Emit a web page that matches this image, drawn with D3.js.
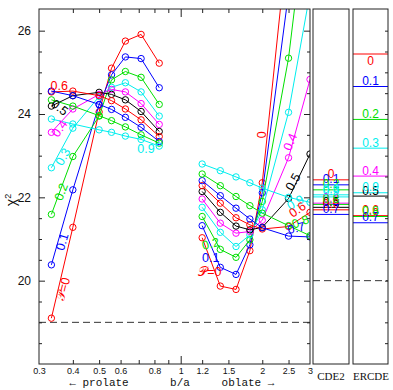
<!DOCTYPE html>
<html><head><meta charset="utf-8">
<script src="https://cdn.jsdelivr.net/npm/d3@7"></script>
<style>body{margin:0;background:#fff}svg{display:block}</style>
</head><body><svg id="c" width="393" height="390"></svg>
<script>
// ---------- data ----------
const pValues = [0, 0.1, 0.2, 0.3, 0.4, 0.5, 0.6, 0.7, 0.8, 0.9];
const seriesColors = ["#ff0000","#0000ff","#00e000","#00eeee","#ff00ff","#000000","#ff0000","#0000ff","#00e000","#00eeee"];

const prolateX = [0.3333, 0.4, 0.5, 0.5556, 0.625, 0.7143, 0.8333];
const oblateX  = [1.2, 1.4, 1.6, 1.8, 2.0, 2.5, 3.0];

const prolateChi2 = [
  [19.10, 21.28, 24.05, 25.10, 25.75, 25.91, 25.22],
  [20.38, 22.18, 24.22, 24.94, 25.37, 25.33, 24.63],
  [21.59, 22.98, 23.95, 24.82, 25.02, 24.88, 24.23],
  [22.71, 23.66, 24.42, 24.64, 24.75, 24.53, 23.95],
  [23.56, 24.12, 24.47, 24.59, 24.53, 24.25, 23.75],
  [24.19, 24.44, 24.52, 24.47, 24.34, 24.06, 23.58],
  [24.53, 24.55, 24.44, 24.32, 24.12, 23.86, 23.46],
  [24.55, 24.44, 24.23, 24.11, 23.92, 23.68, 23.34],
  [24.34, 24.19, 23.96, 23.84, 23.69, 23.50, 23.30],
  [23.88, 23.76, 23.62, 23.56, 23.47, 23.39, 23.23]
];
const oblateChi2 = [
  [21.03, 19.87, 19.79, 20.72, 22.35, 28.40, 33.00],
  [21.32, 20.32, 20.15, 20.86, 22.11, 26.90, 31.00],
  [21.54, 20.75, 20.56, 20.98, 21.90, 25.34, 29.60],
  [21.76, 21.16, 20.82, 21.10, 21.70, 24.04, 26.90],
  [21.96, 21.38, 21.14, 21.18, 21.45, 22.95, 24.83],
  [22.14, 21.64, 21.31, 21.22, 21.28, 21.97, 23.04],
  [22.28, 21.86, 21.51, 21.34, 21.24, 21.30, 21.64],
  [22.40, 22.04, 21.74, 21.48, 21.27, 21.07, 21.05],
  [22.56, 22.28, 22.02, 21.80, 21.62, 21.32, 21.08],
  [22.80, 22.64, 22.49, 22.35, 22.22, 22.00, 21.88]
];
const cde2Chi2  = [22.42, 22.30, 22.18, 22.06, 21.86, 21.76, 21.70, 21.59, 21.83, 22.01];
const ercdeChi2 = [25.44, 24.66, 23.87, 23.18, 22.51, 22.03, 21.56, 21.39, 21.54, 22.11];

const xTickLabels = [0.3, 0.4, 0.5, 0.6, 0.8, 1, 1.2, 1.5, 2, 2.5, 3];
const xTickMarks  = [0.4, 0.5, 0.6, 0.7, 0.8, 0.9, 1, 1.2, 1.5, 2, 2.5];
const yTickLabels = [18, 20, 22, 24, 26];
const yTickMarks  = [18.5,19,19.5,20,20.5,21,21.5,22,22.5,23,23.5,24,24.5,25,25.5,26];
const refMain = 19;
const refPanels = 20;

// curve annotations (anchored in data units)
const curveLabels = [
  {t:"𝒫=0", i:0, bx:0.369, by:19.80, rot:-76},
  {t:"0.1", i:1, bx:0.366, by:20.93, rot:-74},
  {t:"0.2", i:2, bx:0.363, by:22.13, rot:-69},
  {t:"0.3", i:3, bx:0.368, by:22.97, rot:-61},
  {t:"0.4", i:4, bx:0.358, by:23.65, rot:-55},
  {t:"0.5", i:5, bx:0.357, by:24.15, rot:38},
  {t:"0.6", i:6, bx:0.356, by:24.67, rot:0},
  {t:"0.9", i:9, bx:0.745, by:23.15, rot:0},
  {t:"0",   i:0, bx:2.0,  by:23.50, rot:-90},
  {t:"0.4", i:4, bx:2.54, by:23.33, rot:-67},
  {t:"0.5", i:5, bx:2.60, by:22.37, rot:-60},
  {t:"0.9", i:9, bx:2.65, by:21.87, rot:-30},
  {t:"0.6", i:6, bx:2.70, by:21.70, rot:-35},
  {t:"0.8", i:8, bx:2.77, by:21.41, rot:-20},
  {t:"0.7", i:7, bx:2.67, by:21.26, rot:-12},
  {t:"0.2", i:2, bx:1.29, by:20.88, rot:-15},
  {t:"0.1", i:1, bx:1.29, by:20.54, rot:0},
  {t:"𝒫=0", i:0, bx:1.28, by:20.20, rot:0}
];

// ---------- layout ----------
const svg = d3.select("#c");
const main = {l:39, r:310, t:9, b:364};
const cde = {l:313, r:349};
const erc = {l:353, r:388};

const x = d3.scaleLog().domain([0.3, 3]).range([main.l, main.r]);
const y = d3.scaleLinear().domain([18, 26.52]).range([main.b, main.t]);

svg.append("defs").append("clipPath").attr("id","clipMain")
  .append("rect").attr("x",main.l).attr("y",main.t).attr("width",main.r-main.l).attr("height",main.b-main.t);

// reference dashed lines
svg.append("line").attr("x1",main.l).attr("x2",main.r).attr("y1",y(refMain)).attr("y2",y(refMain))
  .attr("stroke","#333").attr("stroke-dasharray","7,4");
[cde, erc].forEach(pn => {
  svg.append("line").attr("x1",pn.l).attr("x2",pn.r).attr("y1",y(refPanels)).attr("y2",y(refPanels))
    .attr("stroke","#333").attr("stroke-dasharray","7,4");
});

// curves
const plot = svg.append("g").attr("clip-path","url(#clipMain)");
const line = d3.line().x(d => x(d[0])).y(d => y(d[1]));
pValues.forEach((p, i) => {
  const col = seriesColors[i];
  [[prolateX, prolateChi2[i]], [oblateX, oblateChi2[i]]].forEach(([xs, ys]) => {
    const pts = xs.map((xv, k) => [xv, ys[k]]);
    plot.append("path").attr("d", line(pts)).attr("fill","none").attr("stroke",col).attr("stroke-width",1);
    plot.selectAll(null).data(pts).enter().append("circle")
      .attr("cx", d => x(d[0])).attr("cy", d => y(d[1])).attr("r", 3.2)
      .attr("fill","none").attr("stroke",col).attr("stroke-width",1);
  });
});

// curve labels
plot.selectAll(null).data(curveLabels).enter().append("text")
  .attr("transform", d => `translate(${x(d.bx)},${y(d.by)}) rotate(${d.rot})`)
  .attr("text-anchor","middle").attr("dominant-baseline","central")
  .attr("font-family","Liberation Sans, Arial, sans-serif").attr("font-size",12.5)
  .attr("fill", d => seriesColors[d.i]).text(d => d.t);

// side panels
function panel(pn, vals, firstBelow) {
  const cx = (pn.l + pn.r) / 2;
  vals.forEach((v, i) => {
    svg.append("line").attr("x1",pn.l).attr("x2",pn.r).attr("y1",y(v)).attr("y2",y(v))
      .attr("stroke",seriesColors[i]).attr("stroke-width",1);
  });
  vals.forEach((v, i) => {
    const below = firstBelow && i === 0;
    svg.append("text").attr("x",cx).attr("y", below ? y(v) + 11 : y(v) - 1.5)
      .attr("text-anchor","middle").attr("font-family","Liberation Sans, Arial, sans-serif")
      .attr("font-size",12).attr("fill",seriesColors[i]).text(pValues[i]);
  });
}
panel(cde, cde2Chi2, false);
panel(erc, ercdeChi2, true);

// frames
[[main.l, main.r],[cde.l, cde.r],[erc.l, erc.r]].forEach(([l, r]) => {
  svg.append("rect").attr("x",l).attr("y",main.t).attr("width",r-l).attr("height",main.b-main.t)
    .attr("fill","none").attr("stroke","#222").attr("stroke-width",1);
});

// axes
const tickFont = "Liberation Sans, Arial, sans-serif";
function styleAxis(g) { g.select(".domain").remove(); g.selectAll("line").attr("stroke","#222"); }

const gl = svg.append("g").attr("transform",`translate(${main.l},0)`)
  .call(d3.axisLeft(y).tickValues(yTickMarks).tickSizeInner(-3).tickSizeOuter(0).tickPadding(8)
    .tickFormat(d => yTickLabels.includes(d) ? d : ""));
styleAxis(gl);
gl.selectAll(".tick").filter(d => yTickLabels.includes(d)).select("line").attr("x2", 6);
gl.selectAll("text").attr("font-family",tickFont).attr("font-size",12).attr("fill","#111");

const gr = svg.append("g").attr("transform",`translate(${main.r},0)`)
  .call(d3.axisRight(y).tickValues(yTickMarks).tickSizeInner(-3).tickSizeOuter(0).tickFormat(""));
styleAxis(gr);
gr.selectAll(".tick").filter(d => yTickLabels.includes(d)).select("line").attr("x2", -6);

const ge = svg.append("g").attr("transform",`translate(${erc.r},0)`)
  .call(d3.axisRight(y).tickValues(yTickMarks).tickSizeInner(-3).tickSizeOuter(0).tickFormat(""));
styleAxis(ge);

const gb = svg.append("g").attr("transform",`translate(0,${main.b})`)
  .call(d3.axisBottom(x).tickValues(xTickMarks).tickSizeInner(-4).tickSizeOuter(0).tickFormat(""));
styleAxis(gb);
gb.selectAll(".tick").filter(d => d === 1).select("line").attr("y2", -8);
const gbl = svg.append("g").attr("transform",`translate(0,${main.b})`)
  .call(d3.axisBottom(x).tickValues(xTickLabels).tickSize(0).tickPadding(4).tickFormat(d => String(d)));
gbl.select(".domain").remove();
gbl.selectAll("text").attr("font-family",tickFont).attr("font-size",9).attr("fill","#111");

const gt = svg.append("g").attr("transform",`translate(0,${main.t})`)
  .call(d3.axisTop(x).tickValues(xTickMarks).tickSizeInner(-4).tickSizeOuter(0).tickFormat(""));
styleAxis(gt);
gt.selectAll(".tick").filter(d => d === 1).select("line").attr("y2", 8);

// axis titles
const mono = "Liberation Mono, DejaVu Sans Mono, monospace";
svg.append("text").attr("x",99).attr("y",386).attr("text-anchor","middle").attr("font-family",mono)
  .attr("font-size",11).attr("fill","#111").text("← prolate");
svg.append("text").attr("x",180).attr("y",386).attr("text-anchor","middle").attr("font-family",mono)
  .attr("font-size",11).attr("fill","#111").text("b/a");
svg.append("text").attr("x",248).attr("y",386).attr("text-anchor","middle").attr("font-family",mono)
  .attr("font-size",11).attr("fill","#111").text("oblate →");
const serif = "Liberation Serif, Times New Roman, serif";
svg.append("text").attr("x",331).attr("y",380).attr("text-anchor","middle").attr("font-family",serif)
  .attr("font-size",11).attr("fill","#111").text("CDE2");
svg.append("text").attr("x",371).attr("y",380).attr("text-anchor","middle").attr("font-family",serif)
  .attr("font-size",11).attr("fill","#111").text("ERCDE");
const yl = svg.append("text").attr("transform","translate(16,200) rotate(-90)").attr("text-anchor","middle")
  .attr("font-family",tickFont).attr("font-size",14).attr("fill","#111");
yl.append("tspan").text("χ");
yl.append("tspan").attr("dy",-5).attr("font-size",9).text("2");
</script></body></html>
